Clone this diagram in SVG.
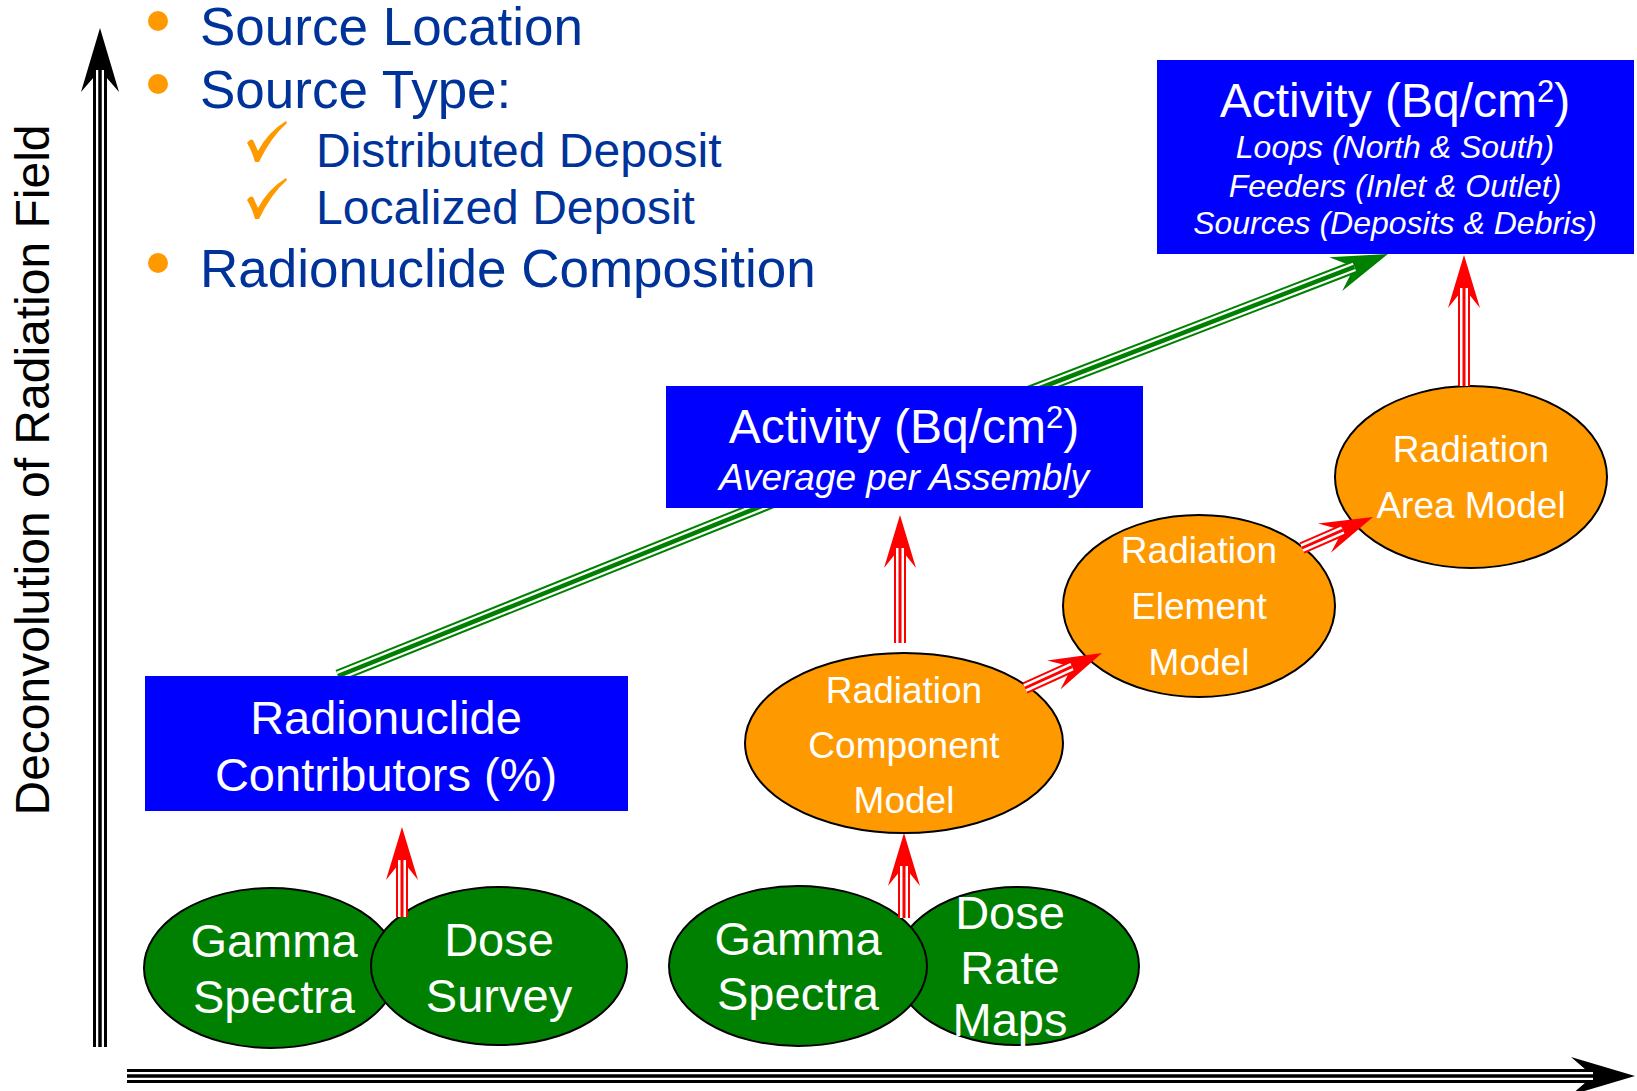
<svg xmlns="http://www.w3.org/2000/svg" width="1637" height="1091" viewBox="0 0 1637 1091">
<style>
text{font-family:"Liberation Sans",Arial,sans-serif}
.bul{fill:#003399}
.w{fill:#fff}
.it{font-style:italic}
.box{fill:#0000ff}
.orng{fill:#ff9900;stroke:#000;stroke-width:2}
.grn{fill:#008000;stroke:#000;stroke-width:2}
.dot{fill:#ff9900}
.ko{fill:none;stroke:#000;stroke-width:14}
.kw{fill:none;stroke:#fff;stroke-width:8}
.ki{fill:none;stroke:#000;stroke-width:3.5}
.ro{fill:none;stroke:#ff0000;stroke-width:12}
.rw{fill:none;stroke:#fff;stroke-width:8}
.ri{fill:none;stroke:#ff0000;stroke-width:3}
.go{fill:none;stroke:#008000;stroke-width:13}
.gw{fill:none;stroke:#fff;stroke-width:9}
.gi{fill:none;stroke:#008000;stroke-width:4.5}
</style>
<defs>
<marker id="hk" markerUnits="userSpaceOnUse" markerWidth="66" markerHeight="40" refX="22" refY="20" orient="auto" overflow="visible">
<path d="M0,1 L64,20 L0,39 L22,20 Z" fill="#000"/>
</marker>
<marker id="hr" markerUnits="userSpaceOnUse" markerWidth="54" markerHeight="32" refX="20" refY="16" orient="auto" overflow="visible">
<path d="M0,0 L53,16 L0,32 L20,16 Z" fill="#ff0000"/>
</marker>
<marker id="hg" markerUnits="userSpaceOnUse" markerWidth="57" markerHeight="36" refX="20" refY="18" orient="auto" overflow="visible">
<path d="M0,0 L56,18 L0,36 L20,18 Z" fill="#008000"/>
</marker>
<clipPath id="outsideBoxes">
<path clip-rule="evenodd" d="M0,0H1637V1091H0Z M666,386H1143V508H666Z M1157,60H1634V254H1157Z M145,676H628V811H145Z"/>
</clipPath>
</defs>
<rect width="1637" height="1091" fill="#fff"/>

<g id="axes">
<path class="ko" d="M100,1047 V70" marker-end="url(#hk)"/>
<path class="kw" d="M100,1047 V70"/>
<path class="ki" d="M100,1047 V70"/>
<path class="ko" d="M127,1076 H1593" marker-end="url(#hk)"/>
<path class="kw" d="M127,1076 H1593"/>
<path class="ki" d="M127,1076 H1593"/>
<text transform="translate(49,470) rotate(-90)" text-anchor="middle" font-size="48" fill="#000">Deconvolution of Radiation Field</text>
</g>

<g id="bullets">
<circle class="dot" cx="158" cy="21" r="10"/>
<text class="bul" x="200" y="45" font-size="53">Source Location</text>
<circle class="dot" cx="158" cy="84" r="10"/>
<text class="bul" x="200" y="108" font-size="53">Source Type:</text>
<path class="dot" d="M247,143 Q250,138 253,140 L258,151 Q268,132 286,121 L287,123 Q271,137 259,162 L255,162 Q252,151 247,143 Z"/>
<text class="bul" x="316" y="167" font-size="48">Distributed Deposit</text>
<path class="dot" d="M247,200 Q250,195 253,197 L258,208 Q268,189 286,178 L287,180 Q271,194 259,219 L255,219 Q252,208 247,200 Z"/>
<text class="bul" x="316" y="224" font-size="48">Localized Deposit</text>
<circle class="dot" cx="158" cy="263" r="10"/>
<text class="bul" x="200" y="287" font-size="53">Radionuclide Composition</text>
</g>

<g id="node-activity-top">
<rect class="box" x="1157" y="60" width="477" height="194"/>
<text class="w" x="1395" y="117" font-size="48" text-anchor="middle">Activity (Bq/cm<tspan font-size="31" dy="-15">2</tspan><tspan dy="15">)</tspan></text>
<text class="w it" x="1395" y="158" font-size="32" text-anchor="middle">Loops (North &amp; South)</text>
<text class="w it" x="1395" y="197" font-size="32" text-anchor="middle">Feeders (Inlet &amp; Outlet)</text>
<text class="w it" x="1395" y="234" font-size="32" text-anchor="middle">Sources (Deposits &amp; Debris)</text>
</g>

<g id="node-activity-mid">
<rect class="box" x="666" y="386" width="477" height="122"/>
<text class="w" x="904" y="443" font-size="48" text-anchor="middle">Activity (Bq/cm<tspan font-size="31" dy="-15">2</tspan><tspan dy="15">)</tspan></text>
<text class="w it" x="904" y="490" font-size="37" text-anchor="middle">Average per Assembly</text>
</g>

<g id="node-radionuclide">
<rect class="box" x="145" y="676" width="483" height="135"/>
<text class="w" x="386" y="734" font-size="47" text-anchor="middle">Radionuclide</text>
<text class="w" x="386" y="791" font-size="47" text-anchor="middle">Contributors (%)</text>
</g>

<g id="node-component">
<ellipse class="orng" cx="904" cy="743" rx="159" ry="90"/>
<text class="w" x="904" y="703" font-size="37" text-anchor="middle">Radiation</text>
<text class="w" x="904" y="758" font-size="37" text-anchor="middle">Component</text>
<text class="w" x="904" y="813" font-size="37" text-anchor="middle">Model</text>
</g>

<g id="node-element">
<ellipse class="orng" cx="1199" cy="606" rx="136" ry="91"/>
<text class="w" x="1199" y="563" font-size="37" text-anchor="middle">Radiation</text>
<text class="w" x="1199" y="619" font-size="37" text-anchor="middle">Element</text>
<text class="w" x="1199" y="675" font-size="37" text-anchor="middle">Model</text>
</g>

<g id="node-area">
<ellipse class="orng" cx="1471" cy="477" rx="136" ry="91"/>
<text class="w" x="1471" y="462" font-size="37" text-anchor="middle">Radiation</text>
<text class="w" x="1471" y="518" font-size="37" text-anchor="middle">Area Model</text>
</g>

<g id="node-gamma-left">
<ellipse class="grn" cx="271" cy="968" rx="127" ry="80"/>
<text class="w" x="274" y="957" font-size="47" text-anchor="middle">Gamma</text>
<text class="w" x="274" y="1013" font-size="47" text-anchor="middle">Spectra</text>
</g>

<g id="node-dose-survey">
<ellipse class="grn" cx="499" cy="966" rx="128" ry="79"/>
<text class="w" x="499" y="956" font-size="47" text-anchor="middle">Dose</text>
<text class="w" x="499" y="1012" font-size="47" text-anchor="middle">Survey</text>
</g>

<g id="node-dose-rate-maps">
<ellipse class="grn" cx="1017" cy="966" rx="122" ry="79"/>
<text class="w" x="1010" y="929" font-size="47" text-anchor="middle">Dose</text>
<text class="w" x="1010" y="984" font-size="47" text-anchor="middle">Rate</text>
<text class="w" x="1010" y="1036" font-size="47" text-anchor="middle">Maps</text>
</g>

<g id="node-gamma-right">
<ellipse class="grn" cx="798" cy="966" rx="129" ry="80"/>
<text class="w" x="798" y="955" font-size="47" text-anchor="middle">Gamma</text>
<text class="w" x="798" y="1010" font-size="47" text-anchor="middle">Spectra</text>
</g>

<g id="connectors">
<g clip-path="url(#outsideBoxes)">
<path class="go" d="M338,676 L800,490.7"/>
<path class="gw" d="M338,676 L800,490.7"/>
<path class="gi" d="M338,676 L800,490.7"/>
<path class="go" d="M1005,401.5 L1354.4,266.9" marker-end="url(#hg)"/>
<path class="gw" d="M1005,401.5 L1354.4,266.9"/>
<path class="gi" d="M1005,401.5 L1354.4,266.9"/>
</g>
<path class="ro" d="M402,917 V860" marker-end="url(#hr)"/>
<path class="rw" d="M402,917 V860"/>
<path class="ri" d="M402,917 V860"/>
<path class="ro" d="M904,918 V866" marker-end="url(#hr)"/>
<path class="rw" d="M904,918 V866"/>
<path class="ri" d="M904,918 V866"/>
<path class="ro" d="M900,643 V548" marker-end="url(#hr)"/>
<path class="rw" d="M900,643 V548"/>
<path class="ri" d="M900,643 V548"/>
<path class="ro" d="M1464,386 V288" marker-end="url(#hr)"/>
<path class="rw" d="M1464,386 V288"/>
<path class="ri" d="M1464,386 V288"/>
<path class="ro" d="M1025,688 L1072,666.7" marker-end="url(#hr)"/>
<path class="rw" d="M1025,688 L1072,666.7"/>
<path class="ri" d="M1025,688 L1072,666.7"/>
<path class="ro" d="M1302,548 L1342.8,530.2" marker-end="url(#hr)"/>
<path class="rw" d="M1302,548 L1342.8,530.2"/>
<path class="ri" d="M1302,548 L1342.8,530.2"/>
</g>
</svg>
